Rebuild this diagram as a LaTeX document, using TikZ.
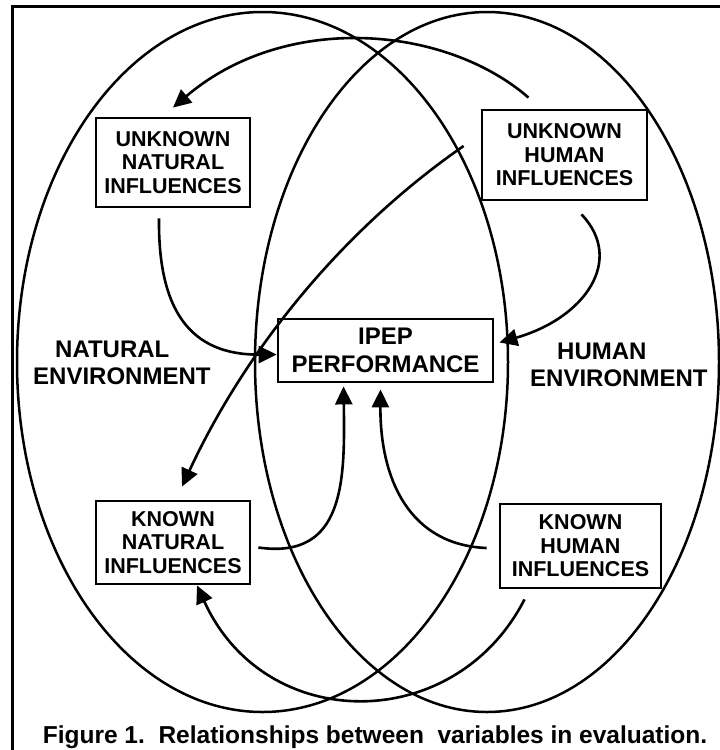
\documentclass[tikz,border=0pt]{standalone}
\usepackage{fontspec}
\setmainfont{Liberation Sans}
\usetikzlibrary{arrows.meta}

\begin{document}
\begin{tikzpicture}
[x=1pt,y=-1pt, % toạ độ tính theo điểm ảnh
box/.style={draw,line width=2.8pt,align=center,inner sep=0pt,
  font=\fontsize{21.5}{23.5}\selectfont\bfseries}, % các ô
arr/.style={line width=2.6pt,-{Triangle[length=18pt,width=17pt]}}, % mũi tên
env/.style={anchor=north west,align=left,inner sep=0pt,
  font=\fontsize{24}{27}\selectfont\bfseries} % môi trường
] % tùy chọn
\useasboundingbox (0,0) rectangle (720,750);
\clip (0,0) rectangle (720,750);
\draw[line width=3pt] (12,6) rectangle (760,780); % khung
\draw[line width=2.5pt] (262.5,362) ellipse [x radius=245.5,y radius=350]; % elip trái
\draw[line width=2.5pt] (487,362) ellipse [x radius=232,y radius=350]; % elip phải
\node[box,minimum width=154pt,minimum height=89pt] (unN) at (173,162.5) {UNKNOWN\\NATURAL\\INFLUENCES};
\node[box,minimum width=165pt,minimum height=90pt] (unH) at (564.5,155) {UNKNOWN\\HUMAN\\INFLUENCES};
\node[box,minimum width=215pt,minimum height=63pt,font=\fontsize{24}{28}\selectfont\bfseries] (ipep) at (385.5,350.5) {IPEP\\PERFORMANCE};
\node[box,minimum width=154pt,minimum height=83pt] (knN) at (173,542.5) {KNOWN\\NATURAL\\INFLUENCES};
\node[box,minimum width=161pt,minimum height=84pt] (knH) at (580.5,546) {KNOWN\\HUMAN\\INFLUENCES};
\node[env] (natEnv) at (33,341) {\hspace*{22pt}NATURAL\\ENVIRONMENT};
\node[env] (humEnv) at (530,343) {\hspace*{27pt}HUMAN\\ENVIRONMENT};
\node[anchor=base,font=\fontsize{24.5}{28}\selectfont\bfseries] (cap) at (375,743)
  {Figure 1.\ \ Relationships between\ \ variables in evaluation.}; % chú thích
% các mũi tên
\draw[arr] ([xshift=-36pt,yshift=11pt]unH.north) .. controls (445,25) and (285,12) .. ([yshift=9pt]unN.north);
\draw[arr] ([xshift=-17pt,yshift=9pt]unH.west) .. controls (341,231) and (245,351) .. ([xshift=9pt,yshift=13pt]knN.north);
\draw[arr] ([xshift=-14pt,yshift=-10pt]unN.south) .. controls (158,310) and (190,355) .. ([yshift=-4pt]ipep.west);
\draw[arr] ([xshift=17pt,yshift=-13pt]unH.south) .. controls (625,260) and (585,318) .. ([xshift=5pt,yshift=8pt]ipep.east);
\draw[arr] ([xshift=7pt,yshift=-5pt]knN.east) .. controls (345,560) and (345,480) .. ([xshift=-42pt,yshift=-3pt]ipep.south);
\draw[arr] ([xshift=-12pt,yshift=-2pt]knH.west) .. controls (410,545) and (380,480) .. ([xshift=-5pt,yshift=-6pt]ipep.south);
\draw[arr] ([xshift=-56pt,yshift=-10pt]knH.south) .. controls (455,735) and (265,735) .. ([xshift=24pt]knN.south);
\end{tikzpicture}
\end{document}
